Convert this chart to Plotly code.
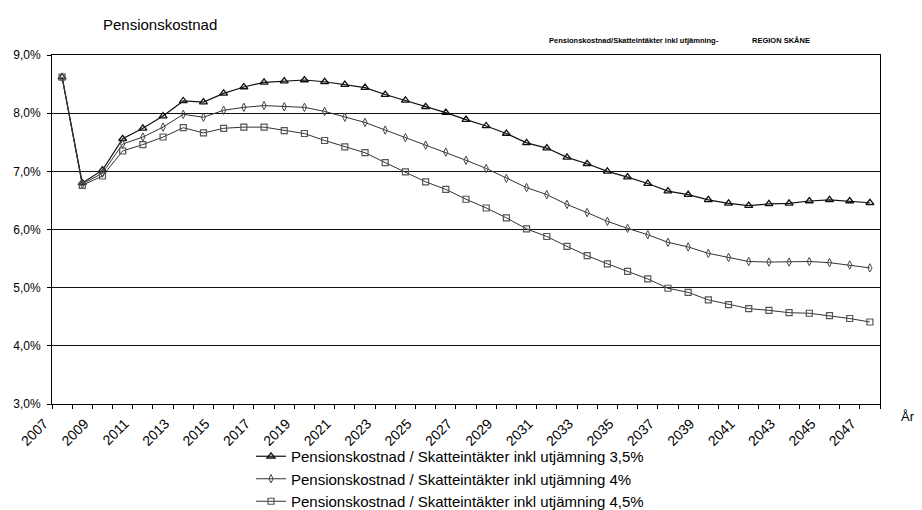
import plotly.graph_objects as go

years = list(range(2007, 2048))
tick_years = list(range(2007, 2048, 2))

s35 = [8.62, 6.80, 7.02, 7.56, 7.74, 7.95, 8.21, 8.19, 8.34, 8.45, 8.53, 8.55, 8.57, 8.54,
       8.49, 8.44, 8.32, 8.22, 8.11, 8.01, 7.89, 7.78, 7.65, 7.49, 7.40, 7.24, 7.13, 7.00,
       6.90, 6.79, 6.66, 6.60, 6.51, 6.45, 6.41, 6.44, 6.45, 6.49, 6.51, 6.49, 6.46]
s40 = [8.62, 6.78, 6.97, 7.47, 7.59, 7.76, 7.98, 7.93, 8.05, 8.10, 8.13, 8.11, 8.10, 8.03,
       7.93, 7.84, 7.71, 7.58, 7.45, 7.33, 7.19, 7.05, 6.88, 6.72, 6.60, 6.43, 6.29, 6.14,
       6.02, 5.91, 5.78, 5.70, 5.59, 5.52, 5.45, 5.44, 5.44, 5.45, 5.43, 5.39, 5.34]
s45 = [8.62, 6.76, 6.92, 7.35, 7.46, 7.59, 7.75, 7.66, 7.74, 7.76, 7.76, 7.70, 7.65, 7.53,
       7.42, 7.32, 7.15, 6.99, 6.82, 6.69, 6.52, 6.37, 6.20, 6.01, 5.88, 5.71, 5.55, 5.41,
       5.28, 5.15, 4.99, 4.92, 4.79, 4.71, 4.64, 4.61, 4.57, 4.56, 4.52, 4.47, 4.41]

names = ["Pensionskostnad / Skatteintäkter inkl utjämning 3,5%",
         "Pensionskostnad / Skatteintäkter inkl utjämning 4%",
         "Pensionskostnad / Skatteintäkter inkl utjämning 4,5%"]

FONT = "Arial, Liberation Sans, sans-serif"
# the page body has an 8px margin, so the figure is drawn 8px in from the window's corner
OFF = 8
W, H = 922 - OFF, 510 - OFF
ML, MR, MT, MB = 52 - OFF, 922 - 880, 55 - OFF, 510 - 404
PW, PH = W - ML - MR, H - MT - MB


def px(x):
    """window pixel x -> paper fraction"""
    return (x - OFF - ML) / PW


def py(y):
    """window pixel y -> paper fraction"""
    return (H - MB - (y - OFF)) / PH


fig = go.Figure()
fig.add_trace(go.Scatter(x=years, y=s35, name=names[0], mode="lines+markers",
                         line=dict(color="#111111", width=1.2),
                         marker=dict(symbol="triangle-up-open", size=7,
                                     color="#111111", line=dict(width=1.3))))
fig.add_trace(go.Scatter(x=years, y=s40, name=names[1], mode="lines+markers",
                         line=dict(color="#333333", width=1),
                         marker=dict(symbol="diamond-tall-open", size=6,
                                     color="#444444", line=dict(width=1))))
fig.add_trace(go.Scatter(x=years, y=s45, name=names[2], mode="lines+markers",
                         line=dict(color="#333333", width=1),
                         marker=dict(symbol="square-open", size=6,
                                     color="#555555", line=dict(width=1.2))))

fig.update_layout(
    width=W, height=H,
    margin=dict(l=ML, r=MR, t=MT, b=MB, autoexpand=False),
    paper_bgcolor="white", plot_bgcolor="white",
    separators=",.",
    font=dict(family=FONT, size=12, color="black"),
    showlegend=True,
    legend=dict(x=px(251), y=py(440), xanchor="left", yanchor="top",
                font=dict(size=15, family=FONT), itemwidth=30,
                bgcolor="rgba(0,0,0,0)", tracegroupgap=0),
    xaxis=dict(range=[2006.5, 2047.5], tickmode="array", tickvals=tick_years,
               ticktext=[str(y) for y in tick_years], tickangle=-45, ticks="",
               ticklabelshift=-18, ticklabelstandoff=5,
               showgrid=False, showline=True, linecolor="black", linewidth=1,
               mirror=True, zeroline=False, tickfont=dict(size=14),
               minor=dict(tickvals=[y - 0.5 for y in years] + [2047.5],
                          ticks="outside", ticklen=4, tickcolor="black", showgrid=False)),
    yaxis=dict(range=[3, 9], dtick=1, tick0=3, tickformat=".1f", ticksuffix="%",
               showgrid=True, gridcolor="#111111", gridwidth=1,
               showline=True, linecolor="black", linewidth=1, mirror=True,
               ticks="outside", ticklen=4, tickcolor="black", zeroline=False,
               ticklabelstandoff=4, tickfont=dict(size=12)),
)

fig.add_annotation(text="Pensionskostnad", xref="paper", yref="paper",
                   x=px(101), y=py(25), xanchor="left", yanchor="middle",
                   showarrow=False, font=dict(size=15, family=FONT))
fig.add_annotation(text="<b>Pensionskostnad/Skatteintäkter inkl utjämning-</b>", xref="paper", yref="paper",
                   x=px(547), y=py(40), xanchor="left", yanchor="middle",
                   showarrow=False, font=dict(size=7.5, family=FONT))
fig.add_annotation(text="<b>REGION SKÅNE</b>", xref="paper", yref="paper",
                   x=px(750), y=py(40), xanchor="left", yanchor="middle",
                   showarrow=False, font=dict(size=7.5, family=FONT))
fig.add_annotation(text="År", xref="paper", yref="paper",
                   x=px(899), y=py(416), xanchor="left", yanchor="middle",
                   showarrow=False, font=dict(size=13, family=FONT))

fig.write_html("out.html")
